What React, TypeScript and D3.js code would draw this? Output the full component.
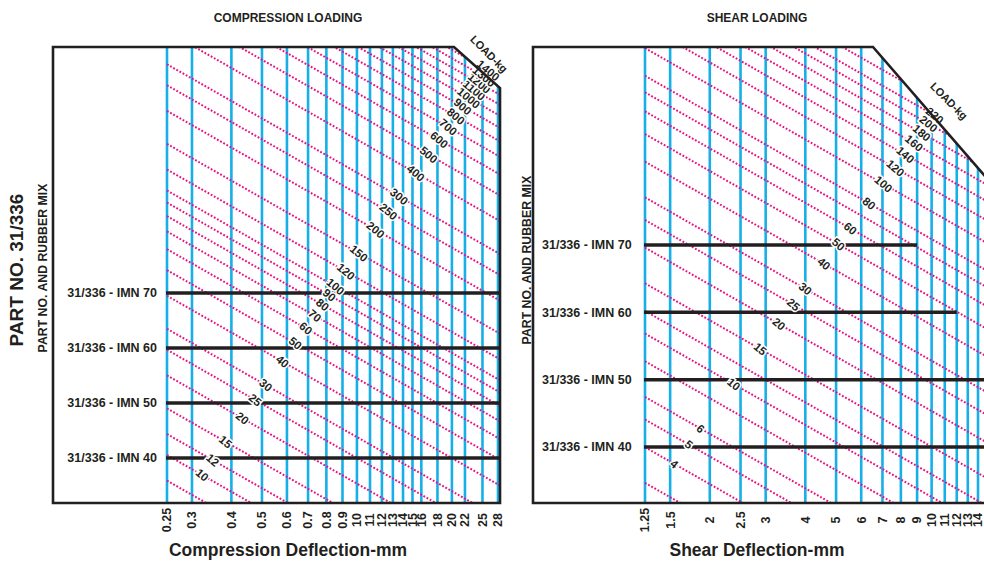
import React from 'react'
import * as d3 from 'd3'

// rubber mixes, top row first
const mixes = ['31/336 - IMN 70', '31/336 - IMN 60', '31/336 - IMN 50', '31/336 - IMN 40']

// compression chart
const compTicks = [0.25, 0.3, 0.4, 0.5, 0.6, 0.7, 0.8, 0.9, 1.0, 1.1, 1.2, 1.3, 1.4, 1.5, 1.6, 1.8, 2.0, 2.2, 2.5, 2.8]
const compTickLabels = ['0.25', '0.3', '0.4', '0.5', '0.6', '0.7', '0.8', '0.9', '10', '11', '12', '13', '14', '15', '16', '18', '20', '22', '25', '28']
const compLoads = [8, 10, 12, 15, 20, 25, 30, 40, 50, 60, 70, 80, 90, 100, 120, 150, 200, 250, 300, 400, 500, 600, 700, 800, 900, 1000, 1100, 1200, 1300, 1400]
const compLoadLabels = [10, 12, 15, 20, 25, 30, 40, 50, 60, 70, 80, 90, 100, 120, 150, 200, 250, 300, 400, 500, 600, 700, 800, 900, 1000, 1100, 1200, 1300, 1400]
const compRowEnds = [null, null, null, null]

// shear chart
const shearTicks = [1.25, 1.5, 2, 2.5, 3, 4, 5, 6, 7, 8, 9, 10, 11, 12, 13, 14]
const shearTickLabels = ['1.25', '1.5', '2', '2.5', '3', '4', '5', '6', '7', '8', '9', '10', '11', '12', '13', '14']
const shearLoads = [3, 4, 5, 6, 8, 10, 12, 15, 20, 25, 30, 40, 50, 60, 70, 80, 100, 120, 140, 160, 180, 200, 220, 250]
const shearLoadLabels = [4, 5, 6, 10, 15, 20, 25, 30, 40, 50, 60, 80, 100, 120, 140, 160, 180, 200, 220]
const shearRowEnds = [9, 12, null, null]

const BLUE = '#16afe8'
const PINK = '#ea1185'
const INK = '#231f20'
const FONT = '"Liberation Sans", Arial, Helvetica, sans-serif'
const SLOPE = 0.57 // load lines drop this many px per px to the right
const TOP = 47
const BOTTOM = 503

const panels = [
  {
    id: 'comp',
    title: 'COMPRESSION LOADING',
    axisTitle: 'Compression Deflection-mm',
    ticks: compTicks,
    tickLabels: compTickLabels,
    loads: compLoads,
    loadLabels: compLoadLabels,
    rowEnds: compRowEnds,
    frameLeft: 53,
    xRange: [167, 498],
    cornerX: 454,
    cornerSlope: 41 / 46,
    right: 500,
    rowRange: [293, 458],
    loadDomain: [10, 1000],
    loadRange: [455, -74],
    guide: { x: 200, y: 478, slope: -1.414 },
    labelX: 157,
    labelAnchor: 'end',
    cx: 288,
  },
  {
    id: 'shear',
    title: 'SHEAR LOADING',
    axisTitle: 'Shear Deflection-mm',
    ticks: shearTicks,
    tickLabels: shearTickLabels,
    loads: shearLoads,
    loadLabels: shearLoadLabels,
    rowEnds: shearRowEnds,
    frameLeft: 533,
    xRange: [645, 978],
    cornerX: 873,
    cornerSlope: 1.153,
    right: 1010,
    rowRange: [245, 447],
    loadDomain: [10, 100],
    loadRange: [333.6, 48.1],
    guide: { x: 675, y: 463, slope: -1.338 },
    labelX: 542,
    labelAnchor: 'start',
    cx: 757,
  },
]

function Panel({ p }: { p: any }) {
  const x = d3.scaleLog().domain([p.ticks[0], p.ticks[p.ticks.length - 1]]).range(p.xRange)
  const y = d3.scalePoint<string>().domain(mixes).range(p.rowRange)
  const load = d3.scaleLog().domain(p.loadDomain).range(p.loadRange)
  const x0 = p.xRange[0]
  const cornerY = TOP + (p.right - p.cornerX) * p.cornerSlope

  const clip = [
    [x0 - 2, TOP],
    [p.cornerX, TOP],
    [p.right, cornerY],
    [p.right, BOTTOM],
    [x0 - 2, BOTTOM],
  ]
  const frame = `M${p.frameLeft},${BOTTOM}V${TOP}H${p.cornerX}L${p.right},${cornerY}V${BOTTOM}Z`

  // where a load line meets the label guide
  const labelPos = (L: number) => {
    const g = p.guide
    const yl = load(L)
    const lx = (g.y - g.slope * g.x - yl + SLOPE * x0) / (SLOPE - g.slope)
    return [lx, yl + SLOPE * (lx - x0)]
  }
  const angle = 40

  return (
    <g>
      <defs>
        <clipPath id={`clip-${p.id}`}>
          <polygon points={clip.map(d => d.join(',')).join(' ')} />
        </clipPath>
      </defs>

      <text x={p.cx} y={21.5} textAnchor="middle" fontSize={12} fontWeight="bold" fill={INK}>
        {p.title}
      </text>

      <g clipPath={`url(#clip-${p.id})`}>
        {p.ticks.map((t: number, i: number) => (
          <line key={i} x1={x(t)} x2={x(t)} y1={TOP} y2={BOTTOM} stroke={BLUE} strokeWidth={2.6} />
        ))}
        {p.loads.map((L: number, i: number) => (
          <line
            key={i}
            x1={x0}
            y1={load(L)}
            x2={p.right}
            y2={load(L) + SLOPE * (p.right - x0)}
            stroke={PINK}
            strokeWidth={2}
            strokeDasharray="1.8 1.8"
          />
        ))}
      </g>

      {mixes.map((m, i) => (
        <g key={m}>
          <line
            x1={x0 - 1}
            x2={p.rowEnds[i] == null ? p.right : x(p.rowEnds[i])}
            y1={y(m)}
            y2={y(m)}
            stroke={INK}
            strokeWidth={3.5}
          />
          <text
            x={p.labelX}
            y={y(m)}
            dy="0.35em"
            textAnchor={p.labelAnchor}
            fontSize={12.5}
            fontWeight="bold"
            fill={INK}
          >
            {m}
          </text>
        </g>
      ))}

      {p.loadLabels.map((L: number) => {
        const [lx, ly] = labelPos(L)
        return (
          <text
            key={L}
            transform={`translate(${lx},${ly}) rotate(${angle})`}
            textAnchor="middle"
            dy="0.35em"
            fontSize={11.5}
            fontWeight="bold"
            fill={INK}
            stroke="white"
            strokeWidth={3}
            paintOrder="stroke"
          >
            {L}
          </text>
        )
      })}

      <path d={frame} fill="none" stroke={INK} strokeWidth={2.6} strokeLinejoin="miter" />

      {p.tickLabels.map((t: string, i: number) => (
        <text
          key={i}
          transform={`translate(${x(p.ticks[i])},520) rotate(-90)`}
          textAnchor="middle"
          dy="0.35em"
          fontSize={12.5}
          fontWeight="bold"
          fill={INK}
        >
          {t}
        </text>
      ))}

      <text x={p.cx} y={556} textAnchor="middle" fontSize={17.5} fontWeight="bold" fill={INK}>
        {p.axisTitle}
      </text>
    </g>
  )
}

export default function App() {
  return (
    <svg
      width={984}
      height={563}
      style={{ position: 'absolute', left: 0, top: 0, background: 'white', fontFamily: FONT }}
    >
      <Panel p={panels[0]} />
      <Panel p={panels[1]} />

      <text transform="translate(489,54) rotate(45)" textAnchor="middle" dy="0.35em" fontSize={11} fontWeight="bold" fill={INK}>
        LOAD-kg
      </text>
      <text transform="translate(949,101) rotate(45)" textAnchor="middle" dy="0.35em" fontSize={11} fontWeight="bold" fill={INK}>
        LOAD-kg
      </text>

      <text transform="translate(16.5,270) rotate(-90)" textAnchor="middle" dy="0.35em" fontSize={19} fontWeight="bold" fill={INK}>
        PART NO. 31/336
      </text>
      <text transform="translate(43,268) rotate(-90)" textAnchor="middle" dy="0.35em" fontSize={12.3} fontWeight="bold" fill={INK}>
        PART NO. AND RUBBER MIX
      </text>
      <text transform="translate(527,260) rotate(-90)" textAnchor="middle" dy="0.35em" fontSize={12.3} fontWeight="bold" fill={INK}>
        PART NO. AND RUBBER MIX
      </text>
    </svg>
  )
}
